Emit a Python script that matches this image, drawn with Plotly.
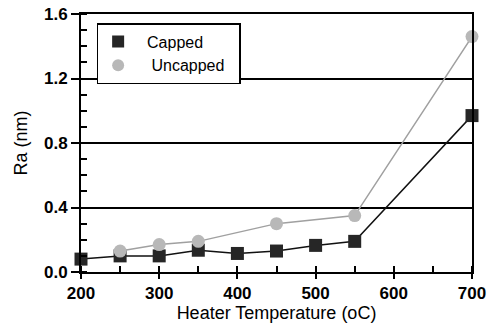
import plotly.graph_objects as go

capped_x = [200, 250, 300, 350, 400, 450, 500, 550, 700]
capped_y = [0.08, 0.10, 0.10, 0.135, 0.115, 0.13, 0.165, 0.19, 0.97]
uncapped_x = [250, 300, 350, 450, 550, 700]
uncapped_y = [0.13, 0.17, 0.19, 0.30, 0.35, 1.46]
y_ticks = [0.0, 0.4, 0.8, 1.2, 1.6]
x_ticks = [200, 300, 400, 500, 600, 700]

cap_marker = dict(symbol="square", size=13, color="#262626")
unc_marker = dict(symbol="circle", size=13, color="#b8b8b8")

fig = go.Figure()
fig.add_trace(go.Scatter(x=capped_x, y=capped_y, name="Capped", mode="lines+markers",
                         line=dict(color="#111111", width=1.5), marker=cap_marker,
                         cliponaxis=False, showlegend=False))
fig.add_trace(go.Scatter(x=uncapped_x, y=uncapped_y, name="Uncapped", mode="lines+markers",
                         line=dict(color="#a0a0a0", width=1.5), marker=unc_marker,
                         cliponaxis=False, showlegend=False))
# legend entries show markers only, as in the reference
fig.add_trace(go.Scatter(x=[None], y=[None], name="  Capped", mode="markers", marker=cap_marker))
fig.add_trace(go.Scatter(x=[None], y=[None], name="   Uncapped\u00a0\u00a0", mode="markers", marker=unc_marker))

font = "Liberation Sans, Arial, sans-serif"
fig.update_layout(
    width=496, height=325,
    margin=dict(l=81, r=24, t=14, b=53),
    paper_bgcolor="white", plot_bgcolor="white",
    font=dict(family=font, size=18, color="black"),
    showlegend=True,
    legend=dict(x=0.04, y=0.965, xanchor="left", yanchor="top",
                bordercolor="black", borderwidth=1.5, bgcolor="white",
                font=dict(size=16), itemsizing="constant",
                tracegroupgap=0, itemwidth=30),
    xaxis=dict(range=[200, 700], tickvals=x_ticks, showgrid=False, zeroline=False,
               automargin=False,
               showline=True, linecolor="black", linewidth=2, mirror=True,
               ticks="outside", ticklen=5, tickwidth=2, tickcolor="black",
               tickfont=dict(family=font, size=17, weight="bold"),
               minor=dict(dtick=50, ticks="inside", ticklen=6, tickwidth=2, tickcolor="black", showgrid=False),
               title=dict(text="Heater Temperature (oC)", font=dict(size=18), standoff=2)),
    yaxis=dict(range=[0, 1.6], tickvals=y_ticks, ticktext=["0.0", "0.4", "0.8", "1.2", "1.6"],
               automargin=False,
               showgrid=True, gridcolor="black", gridwidth=2, zeroline=False,
               showline=True, linecolor="black", linewidth=2, mirror=True,
               ticks="outside", ticklen=8, tickwidth=2, tickcolor="black",
               tickfont=dict(family=font, size=17, weight="bold"),
               minor=dict(dtick=0.1, ticks="inside", ticklen=6, tickwidth=2, tickcolor="black", showgrid=False),
               title=dict(text="Ra (nm)", font=dict(size=18), standoff=12)),
)
fig.write_html("out.html", config={"displayModeBar": False},
               post_script="document.body.style.margin='0';")
